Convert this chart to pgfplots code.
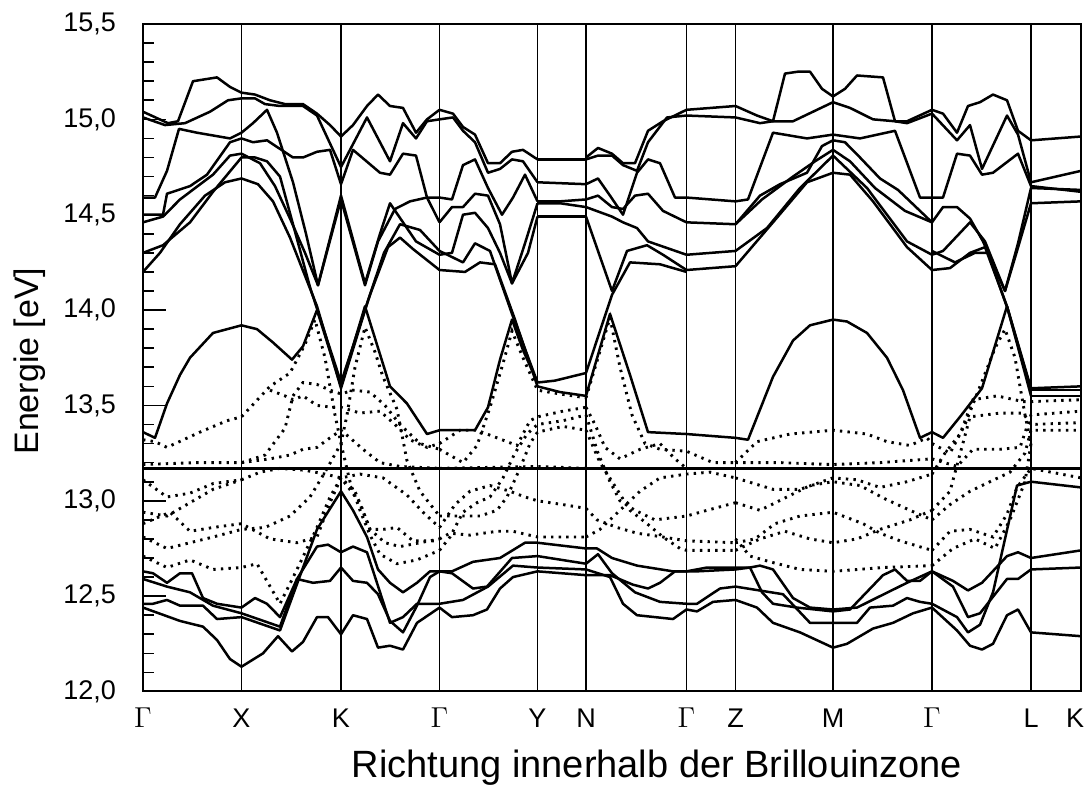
\documentclass[border=0pt]{standalone}
\usepackage{fontspec}
\setmainfont{Liberation Sans}
\usepackage{pgfplots}
\pgfplotsset{compat=1.18}
\usetikzlibrary{calc}
\begin{document}
\begin{tikzpicture}
\begin{axis}[name=ax, scale only axis, width=469pt, height=333.75pt,
  xmin=143, xmax=1081, ymin=12, ymax=15.5,
  axis line style={line width=1pt},
  xtick={143,241.5,341,439.5,537.5,586,686.5,735.5,833,932,1031,1081},
  xticklabels={$\Gamma$,X,K,$\Gamma$,Y,N,$\Gamma$,Z,M,$\Gamma$,L,\llap{K\kern-1.5pt}},
  xmajorgrids, major x grid style={black, line width=0.8pt},
  x tick style={draw=none},
  ytick={12,12.5,13,13.5,14,14.5,15,15.5}, minor y tick num=4,
  ytick pos=left, tick align=inside,
  major tick length=11.5pt, minor tick length=5.5pt,
  y tick style={black, line width=0.8pt},
  yticklabel style={anchor=east, xshift=-10pt},
  xticklabel style={anchor=base, yshift=-18pt, inner sep=0pt},
  ticklabel style={font=\fontsize{13.5}{15}\selectfont},
  /pgf/number format/.cd, use comma, fixed, fixed zerofill, precision=1, assume math mode=true,
  /pgfplots/.cd,
  xlabel={Richtung innerhalb der Brillouinzone},
  ylabel={Energie [eV]},
  xlabel style={at={(axis description cs:0.548,-0.1138)}, anchor=center, font=\fontsize{19}{21}\selectfont},
  ylabel style={at={(axis description cs:-0.1205,0.495)}, anchor=center, font=\fontsize{17}{19}\selectfont},
  band/.style={black, line width=1.25pt, line join=round},
  dband/.style={black, line width=1.45pt, dash pattern=on 1.2pt off 2.6pt},
]
% horizontal reference line
\addplot[black, line width=1.7pt] coordinates {(143,13.17)(1081,13.17)};
% ===== upper solid bands: Gamma-X-K-Gamma
\addplot[band] coordinates {(143,15.04)(168,14.98)(178,14.99)(193,15.20)(217,15.22)(230,15.17)(241.5,15.14)(255,15.13)(270,15.10)(285,15.08)(303,15.08)(317,15.03)(330,14.97)(341,14.91)(353,14.97)(367,15.07)(378,15.13)(390,15.07)(403,15.06)(416,14.93)(427,15.00)(439.5,15.05)};
\addplot[band] coordinates {(143,15.01)(165,14.97)(185,14.98)(210,15.04)(228,15.10)(241.5,15.11)(255,15.11)(265,15.08)(280,15.07)(303,15.07)(317,15.02)(341,14.75)(353,14.87)(367,15.01)(390,14.78)(403,14.98)(416,14.90)(427,14.99)(439.5,15.00)};
\addplot[band] coordinates {(143,14.59)(155,14.59)(167,14.73)(179,14.95)(197,14.93)(230,14.90)(241.5,14.93)(253,14.98)(267,15.05)(277,14.93)(293,14.67)(306,14.40)(318,14.13)(341,14.60)(365,14.14)(380,14.40)(390,14.56)(403,14.46)(416,14.36)(439.5,14.29)};
\addplot[band] coordinates {(143,14.50)(163,14.50)(167,14.61)(190,14.65)(207,14.71)(230,14.88)(241.5,14.90)(253,14.88)(267,14.89)(293,14.80)(303,14.80)(317,14.83)(330,14.84)(341,14.66)(353,14.84)(380,14.72)(390,14.71)(403,14.82)(416,14.81)(427,14.59)(439.5,14.46)};
\addplot[band] coordinates {(143,14.46)(163,14.49)(180,14.58)(213,14.71)(230,14.81)(241.5,14.82)(260,14.77)(275,14.65)(290,14.48)(305,14.30)(318,14.13)(341,14.58)(365,14.13)(378,14.36)(395,14.53)(410,14.57)(427,14.59)(439.5,14.59)};
\addplot[band] coordinates {(143,14.30)(163,14.34)(190,14.46)(213,14.62)(241.5,14.80)(255,14.80)(267,14.78)(280,14.70)(293,14.45)(310,14.12)(341,13.62)(370,14.08)(388,14.33)(400,14.38)(413,14.32)(439.5,14.21)};
\addplot[band] coordinates {(143,14.20)(160,14.30)(180,14.45)(205,14.60)(225,14.67)(241.5,14.69)(258,14.66)(273,14.57)(290,14.38)(317,14.02)(341,13.59)(368,14.05)(384,14.30)(400,14.45)(420,14.42)(439.5,14.31)};
\addplot[band] coordinates {(143,13.36)(155,13.33)(167,13.51)(180,13.66)(190,13.75)(213,13.88)(241.5,13.92)(257,13.90)(273,13.83)(292,13.74)(303,13.81)(317,14.00)(341,13.60)(365,14.02)(390,13.60)(407,13.51)(427,13.35)(439.5,13.37)};
% ===== Gamma-Y
\addplot[band] coordinates {(439.5,15.05)(453,15.03)(463,14.96)(475,14.92)(488,14.77)(500,14.77)(512,14.83)(523,14.84)(537.5,14.79)};
\addplot[band] coordinates {(439.5,15.00)(453,15.01)(463,14.94)(475,14.88)(488,14.72)(500,14.74)(512,14.79)(523,14.78)(537.5,14.67)};
\addplot[band] coordinates {(439.5,14.59)(452,14.58)(463,14.76)(475,14.79)(488,14.64)(502,14.50)(513,14.59)(525,14.71)(537.5,14.57)};
\addplot[band] coordinates {(439.5,14.46)(452,14.54)(463,14.54)(475,14.61)(488,14.60)(500,14.45)(512,14.14)(525,14.35)(537.5,14.56)};
\addplot[band] coordinates {(439.5,14.29)(452,14.30)(463,14.50)(475,14.51)(488,14.43)(500,14.30)(512,14.14)(528,14.30)(537.5,14.49)};
\addplot[band] coordinates {(439.5,14.31)(463,14.25)(475,14.35)(490,14.31)(512,13.98)(537.5,13.62)};
\addplot[band] coordinates {(439.5,14.21)(465,14.20)(480,14.25)(495,14.24)(515,13.95)(537.5,13.60)};
\addplot[band] coordinates {(439.5,13.37)(475,13.37)(488,13.49)(500,13.74)(512,13.95)(523,13.79)(537.5,13.62)};
% ===== Y-N
\addplot[band] coordinates {(537.5,14.79)(586,14.79)};
\addplot[band] coordinates {(537.5,14.67)(586,14.66)};
\addplot[band] coordinates {(537.5,14.57)(560,14.57)(586,14.58)};
\addplot[band] coordinates {(537.5,14.56)(560,14.56)(586,14.54)};
\addplot[band] coordinates {(537.5,14.49)(586,14.49)};
\addplot[band] coordinates {(537.5,13.62)(555,13.63)(586,13.67)};
\addplot[band] coordinates {(537.5,13.60)(560,13.57)(586,13.55)};
% ===== N-Gamma
\addplot[band] coordinates {(586,14.80)(598,14.85)(612,14.82)(623,14.77)(635,14.77)(648,14.94)(663,14.99)(686.5,15.05)};
\addplot[band] coordinates {(586,14.79)(598,14.81)(612,14.81)(623,14.76)(637,14.73)(648,14.88)(667,15.01)(686.5,15.02)};
\addplot[band] coordinates {(586,14.66)(598,14.69)(610,14.60)(623,14.50)(637,14.72)(648,14.79)(660,14.77)(675,14.59)(686.5,14.59)};
\addplot[band] coordinates {(586,14.58)(598,14.60)(612,14.54)(623,14.53)(635,14.60)(648,14.61)(663,14.52)(686.5,14.46)};
\addplot[band] coordinates {(586,14.54)(612,14.49)(623,14.46)(637,14.43)(648,14.36)(686.5,14.29)};
\addplot[band] coordinates {(586,14.49)(612,14.10)(627,14.31)(647,14.34)(663,14.29)(686.5,14.21)};
\addplot[band] coordinates {(586,13.67)(612,14.08)(630,14.25)(660,14.24)(686.5,14.20)};
\addplot[band] coordinates {(586,13.55)(610,13.98)(630,13.66)(648,13.36)(686.5,13.35)};
% ===== Gamma-Z
\addplot[band] coordinates {(686.5,15.05)(735.5,15.07)};
\addplot[band] coordinates {(686.5,15.02)(735.5,15.01)};
\addplot[band] coordinates {(686.5,14.59)(735.5,14.57)};
\addplot[band] coordinates {(686.5,14.46)(735.5,14.45)};
\addplot[band] coordinates {(686.5,14.29)(735.5,14.31)};
\addplot[band] coordinates {(686.5,14.21)(735.5,14.23)};
\addplot[band] coordinates {(686.5,13.35)(735.5,13.33)};
% ===== Z-M-Gamma
\addplot[band] coordinates {(735.5,15.07)(757,15.02)(773,14.99)(793,14.99)(813,15.04)(833,15.09)(850,15.06)(873,15.00)(895,14.99)(907,14.99)(932,15.05)};
\addplot[band] coordinates {(735.5,15.01)(760,14.98)(773,14.99)(785,15.24)(798,15.25)(810,15.25)(822,15.16)(833,15.12)(845,15.16)(857,15.23)(883,15.22)(895,14.99)(907,14.98)(932,15.03)};
\addplot[band] coordinates {(735.5,14.57)(748,14.58)(773,14.93)(807,14.90)(833,14.92)(860,14.90)(895,14.94)(920,14.59)(932,14.59)};
\addplot[band] coordinates {(735.5,14.45)(760,14.60)(780,14.66)(807,14.72)(822,14.86)(833,14.89)(845,14.88)(860,14.80)(880,14.69)(898,14.63)(932,14.46)};
\addplot[band] coordinates {(735.5,14.45)(762,14.58)(793,14.70)(815,14.78)(833,14.84)(850,14.78)(875,14.64)(905,14.52)(932,14.46)};
\addplot[band] coordinates {(735.5,14.31)(767,14.43)(800,14.64)(833,14.81)(867,14.64)(907,14.36)(932,14.29)};
\addplot[band] coordinates {(735.5,14.23)(773,14.46)(807,14.67)(833,14.72)(850,14.71)(873,14.57)(907,14.33)(932,14.21)};
\addplot[band] coordinates {(735.5,13.33)(748,13.32)(773,13.65)(793,13.84)(810,13.92)(833,13.95)(847,13.94)(867,13.88)(887,13.75)(903,13.58)(920,13.33)(932,13.36)};
% ===== Gamma-L
\addplot[band] coordinates {(932,15.05)(943,15.03)(957,14.93)(968,15.07)(980,15.09)(993,15.13)(1007,15.10)(1018,14.94)(1031,14.89)};
\addplot[band] coordinates {(932,15.03)(957,14.89)(970,14.97)(982,14.74)(1007,15.02)(1018,14.92)(1031,14.67)};
\addplot[band] coordinates {(932,14.59)(943,14.59)(957,14.82)(970,14.81)(982,14.71)(993,14.72)(1018,14.82)(1031,14.65)};
\addplot[band] coordinates {(932,14.46)(943,14.54)(957,14.54)(970,14.48)(983,14.36)(1005,14.10)(1018,14.35)(1031,14.64)};
\addplot[band] coordinates {(932,14.29)(943,14.31)(970,14.46)(985,14.36)(1005,14.10)(1017,14.31)(1031,14.56)};
\addplot[band] coordinates {(932,14.21)(950,14.22)(970,14.30)(985,14.33)(1007,14.02)(1031,13.59)};
\addplot[band] coordinates {(932,14.31)(955,14.25)(975,14.30)(988,14.30)(1008,14.00)(1031,13.58)};
\addplot[band] coordinates {(932,13.36)(943,13.33)(960,13.44)(982,13.59)(1007,14.02)(1031,13.55)};
% ===== L-K
\addplot[band] coordinates {(1031,14.89)(1081,14.91)};
\addplot[band] coordinates {(1031,14.67)(1081,14.73)};
\addplot[band] coordinates {(1031,14.65)(1081,14.62)};
\addplot[band] coordinates {(1031,14.64)(1081,14.63)};
\addplot[band] coordinates {(1031,14.56)(1081,14.57)};
\addplot[band] coordinates {(1031,13.59)(1081,13.60)};
\addplot[band] coordinates {(1031,13.58)(1081,13.58)};
\addplot[band] coordinates {(1031,13.55)(1081,13.55)};
% ===== lower solid bands
\addplot[band] coordinates {(143,12.63)(153,12.62)(167,12.57)(180,12.62)(192,12.62)(203,12.49)(217,12.46)(241.5,12.44)(255,12.49)(267,12.46)(280,12.39)(297,12.59)(317,12.76)(328,12.77)(341,12.73)(353,12.76)(367,12.73)(390,12.36)(403,12.39)(417,12.46)(439.5,12.46)(463,12.48)(488,12.55)(513,12.66)(537.5,12.65)(586,12.64)(610,12.60)(623,12.46)(637,12.40)(673,12.38)(686.5,12.43)(697,12.42)(713,12.47)(735.5,12.48)(757,12.44)(773,12.36)(800,12.31)(833,12.23)(847,12.25)(873,12.33)(893,12.36)(913,12.41)(932,12.44)(957,12.32)(970,12.24)(982,12.22)(993,12.25)(1007,12.40)(1018,12.43)(1031,12.31)(1081,12.29)};
\addplot[band] coordinates {(143,12.59)(167,12.55)(190,12.52)(213,12.45)(241.5,12.41)(280,12.34)(297,12.59)(313,12.57)(330,12.58)(341,12.65)(353,12.58)(367,12.57)(378,12.51)(390,12.37)(403,12.31)(417,12.45)(430,12.60)(439.5,12.63)(452,12.63)(473,12.68)(500,12.70)(525,12.78)(537.5,12.78)(586,12.75)(597,12.75)(612,12.70)(637,12.66)(673,12.63)(686.5,12.63)(707,12.65)(735.5,12.65)(750,12.65)(760,12.66)(773,12.64)(793,12.49)(810,12.44)(833,12.43)(857,12.44)(880,12.50)(907,12.57)(932,12.63)(953,12.58)(968,12.53)(982,12.57)(1007,12.71)(1018,12.73)(1031,12.70)(1081,12.74)};
\addplot[band] coordinates {(143,12.46)(153,12.46)(167,12.48)(180,12.45)(203,12.45)(217,12.38)(241.5,12.39)(280,12.32)(317,12.85)(341,13.05)(353,12.95)(367,12.81)(378,12.64)(390,12.57)(403,12.52)(417,12.57)(430,12.63)(439.5,12.63)(452,12.62)(473,12.54)(487,12.55)(512,12.70)(537.5,12.71)(586,12.67)(598,12.72)(612,12.62)(635,12.52)(660,12.47)(686.5,12.46)(697,12.46)(720,12.54)(735.5,12.55)(783,12.51)(810,12.36)(833,12.36)(857,12.36)(870,12.44)(893,12.45)(907,12.49)(920,12.47)(932,12.46)(957,12.39)(968,12.31)(980,12.35)(993,12.52)(1017,13.08)(1031,13.10)(1081,13.07)};
\addplot[band] coordinates {(143,12.44)(180,12.37)(203,12.34)(217,12.27)(230,12.17)(241.5,12.13)(263,12.20)(278,12.29)(292,12.21)(303,12.26)(317,12.39)(328,12.39)(341,12.30)(353,12.40)(367,12.38)(378,12.23)(390,12.24)(403,12.22)(417,12.36)(439.5,12.44)(452,12.39)(473,12.40)(487,12.43)(500,12.54)(513,12.60)(537.5,12.63)(586,12.61)(610,12.61)(633,12.56)(648,12.54)(660,12.57)(675,12.63)(686.5,12.63)(697,12.63)(735.5,12.64)(750,12.65)(762,12.52)(773,12.46)(797,12.44)(833,12.42)(850,12.43)(883,12.61)(895,12.64)(907,12.58)(920,12.58)(932,12.63)(953,12.55)(968,12.39)(980,12.41)(1007,12.59)(1018,12.59)(1031,12.64)(1081,12.65)};
% ===== dotted bands: Gamma-X-K-Gamma
\addplot[dband] coordinates {(143,13.32)(155,13.31)(167,13.28)(200,13.36)(227,13.42)(241.5,13.44)(270,13.60)(290,13.67)(305,13.82)(315,13.95)(325,13.75)(335,13.45)(341,13.30)(350,13.10)(360,12.95)(370,12.82)(380,12.72)(397,12.67)(417,12.69)(439.5,12.74)};
\addplot[dband] coordinates {(143,12.81)(167,12.75)(190,12.78)(213,12.81)(241.5,12.85)(265,12.86)(290,12.92)(310,13.02)(325,13.15)(341,13.30)(347,13.45)(355,13.70)(365,13.91)(375,13.78)(383,13.65)(397,13.48)(407,13.21)(420,13.05)(439.5,12.92)};
\addplot[dband] coordinates {(143,13.19)(197,13.20)(241.5,13.20)(265,13.24)(285,13.38)(293,13.55)(303,13.62)(317,13.61)(330,13.58)(341,13.56)(353,13.58)(370,13.57)(385,13.50)(400,13.40)(420,13.30)(439.5,13.27)};
\addplot[dband] coordinates {(270,13.58)(285,13.55)(293,13.53)(303,13.55)(317,13.50)(333,13.49)(341,13.49)(360,13.46)(380,13.47)(395,13.40)(410,13.32)(427,13.28)(439.5,13.30)};
\addplot[dband] coordinates {(241.5,13.20)(270,13.22)(290,13.24)(303,13.27)(317,13.28)(330,13.33)(341,13.37)(350,13.33)(363,13.27)(380,13.20)(400,13.18)(439.5,13.17)};
\addplot[dband] coordinates {(143,13.11)(167,13.02)(190,13.04)(213,13.09)(241.5,13.11)(260,13.15)(280,13.17)(305,13.16)(325,13.14)(341,13.12)(360,13.14)(383,13.12)(407,13.03)(423,12.94)(439.5,12.86)};
\addplot[dband] coordinates {(143,12.94)(167,12.92)(190,12.99)(213,13.06)(241.5,13.11)};
\addplot[dband] coordinates {(143,12.88)(170,12.94)(190,12.84)(213,12.86)(241.5,12.88)(270,12.80)(297,12.78)(317,12.81)(330,12.99)(341,13.12)(355,13.05)(370,12.85)(383,12.85)(397,12.86)(413,12.79)(439.5,12.79)};
\addplot[dband] coordinates {(143,12.71)(167,12.65)(190,12.69)(213,12.64)(241.5,12.65)(257,12.67)(280,12.46)(297,12.64)(317,12.86)(330,13.02)(341,13.12)(360,12.99)(370,12.85)(385,12.78)(400,12.76)(420,12.78)(439.5,12.80)};
% ===== dotted: Gamma-Y-N
\addplot[dband] coordinates {(439.5,13.27)(463,13.20)(477,13.29)(490,13.49)(503,13.72)(512,13.89)(523,13.75)(537.5,13.58)(560,13.56)(586,13.54)};
\addplot[dband] coordinates {(439.5,13.30)(460,13.37)(477,13.37)(497,13.33)(517,13.29)(530,13.42)(537.5,13.44)(563,13.47)(586,13.49)};
\addplot[dband] coordinates {(439.5,12.80)(450,12.83)(470,12.82)(497,12.84)(513,12.84)(537.5,12.81)(586,12.81)};
\addplot[dband] coordinates {(439.5,12.74)(450,12.81)(463,12.94)(477,12.99)(490,13.02)(503,13.12)(515,13.25)(527,13.35)(537.5,13.40)(563,13.42)(586,13.45)};
\addplot[dband] coordinates {(439.5,12.92)(463,12.92)(480,12.92)(497,12.95)(507,13.02)(520,13.17)(530,13.30)(537.5,13.36)(563,13.39)(586,13.37)};
\addplot[dband] coordinates {(439.5,12.86)(455,12.98)(470,13.05)(490,13.08)(510,13.05)(525,13.02)(537.5,13.00)(563,12.98)(586,12.96)};
\addplot[dband] coordinates {(439.5,13.17)(537.5,13.18)(586,13.17)};
% ===== dotted: N-Gamma-Z
\addplot[dband] coordinates {(586,13.54)(598,13.75)(610,13.96)(620,13.70)(632,13.45)(645,13.30)(660,13.27)(686.5,13.26)(713,13.20)(735.5,13.20)};
\addplot[dband] coordinates {(586,13.49)(595,13.40)(605,13.28)(620,13.22)(640,13.27)(660,13.30)(675,13.22)(686.5,13.17)};
\addplot[dband] coordinates {(586,13.45)(598,13.25)(610,13.10)(620,13.00)(635,12.95)(655,12.90)(686.5,12.92)(707,12.95)(735.5,12.99)};
\addplot[dband] coordinates {(586,13.37)(600,13.20)(617,13.06)(630,12.95)(647,12.88)(663,12.81)(680,12.75)(686.5,12.74)(735.5,12.74)};
\addplot[dband] coordinates {(586,12.96)(597,12.90)(617,12.86)(637,12.83)(663,12.81)(686.5,12.79)(735.5,12.78)};
\addplot[dband] coordinates {(586,12.81)(600,12.85)(620,12.95)(640,13.05)(660,13.12)(686.5,13.14)(710,13.15)(735.5,13.12)};
% ===== dotted: Z-M-Gamma
\addplot[dband] coordinates {(735.5,13.20)(757,13.31)(790,13.35)(833,13.37)(867,13.35)(887,13.31)(910,13.29)(927,13.33)(932,13.30)};
\addplot[dband] coordinates {(735.5,13.20)(780,13.20)(833,13.19)(880,13.20)(932,13.22)};
\addplot[dband] coordinates {(735.5,13.12)(773,13.06)(800,13.06)(833,13.12)(857,13.11)(880,13.07)(907,13.10)(932,13.14)};
\addplot[dband] coordinates {(735.5,12.99)(760,12.95)(787,13.02)(810,13.08)(833,13.10)(860,13.08)(885,13.01)(910,12.95)(932,12.90)};
\addplot[dband] coordinates {(735.5,12.78)(755,12.80)(775,12.88)(800,12.92)(833,12.94)(863,12.88)(880,12.83)(900,12.79)(932,12.74)};
\addplot[dband] coordinates {(735.5,12.74)(760,12.80)(785,12.84)(810,12.80)(833,12.78)(857,12.80)(880,12.85)(910,12.90)(932,12.95)};
\addplot[dband] coordinates {(735.5,12.80)(750,12.71)(770,12.68)(800,12.64)(833,12.63)(883,12.65)(932,12.66)};
% ===== dotted: Gamma-L-K
\addplot[dband] coordinates {(932,13.30)(950,13.25)(965,13.40)(980,13.60)(995,13.80)(1005,13.90)(1015,13.75)(1025,13.45)(1031,13.30)};
\addplot[dband] coordinates {(932,13.14)(945,13.25)(960,13.35)(973,13.53)(997,13.55)(1023,13.52)(1031,13.52)(1081,13.53)};
\addplot[dband] coordinates {(932,13.22)(957,13.18)(973,13.27)(1000,13.27)(1020,13.28)(1031,13.45)(1081,13.47)};
\addplot[dband] coordinates {(932,12.95)(950,13.05)(970,13.44)(1000,13.46)(1023,13.46)(1031,13.40)(1081,13.41)};
\addplot[dband] coordinates {(932,12.90)(950,12.98)(970,13.05)(990,13.10)(1010,13.15)(1025,13.25)(1031,13.37)(1081,13.37)};
\addplot[dband] coordinates {(932,12.74)(950,12.84)(970,12.85)(993,12.81)(1007,12.93)(1017,13.07)(1031,13.17)(1081,13.12)};
\addplot[dband] coordinates {(932,12.66)(953,12.75)(975,12.80)(995,12.75)(1010,12.90)(1025,13.10)(1031,13.30)};
\end{axis}
\pgfresetboundingbox
\useasboundingbox ($(ax.south west)+(-71.5pt,-49.75pt)$) rectangle ($(ax.north east)+(2.5pt,12pt)$);
\end{tikzpicture}
\end{document}
